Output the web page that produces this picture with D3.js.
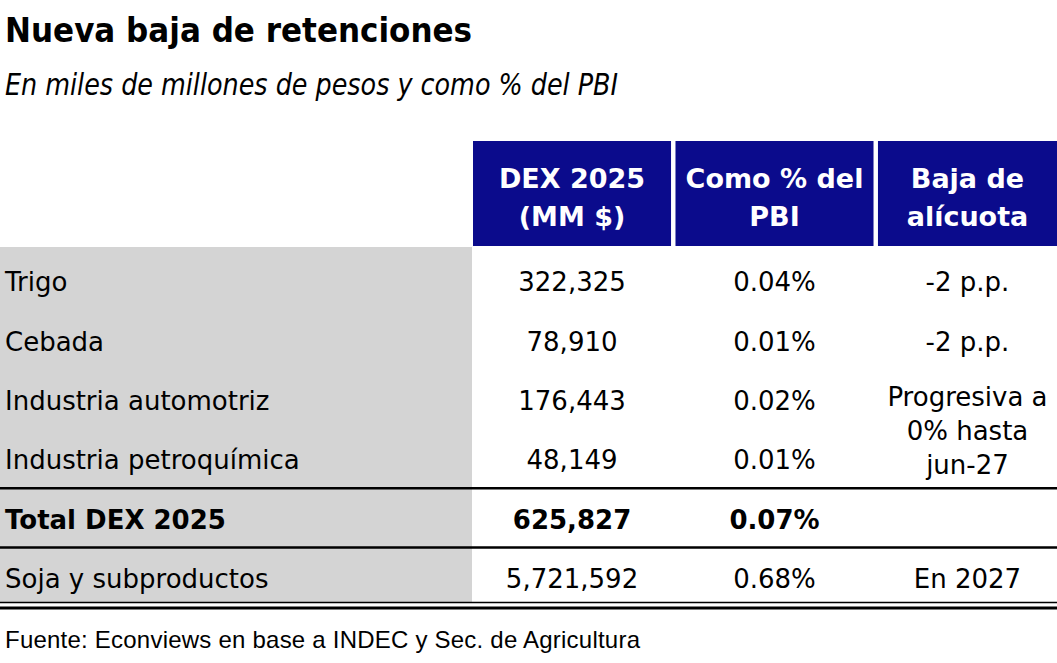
<!DOCTYPE html>
<html>
<head>
<meta charset="utf-8">
<script src="https://cdn.jsdelivr.net/npm/d3@7"></script>
<style>
  body { margin: 0; background: #fff; }
  text { font-family: "DejaVu Sans", sans-serif; }
</style>
</head>
<body>
<div id="chart"></div>
<script>
// table data
var columns = ["DEX 2025\n(MM $)", "Como % del\nPBI", "Baja de\nalícuota"];
var rows = ["Trigo", "Cebada", "Industria automotriz", "Industria petroquímica", "Total DEX 2025", "Soja y subproductos"];
var dex = ["322,325", "78,910", "176,443", "48,149", "625,827", "5,721,592"];
var pctPbi = ["0.04%", "0.01%", "0.02%", "0.01%", "0.07%", "0.68%"];
var baja = ["-2 p.p.", "-2 p.p.", "Progresiva a\n0% hasta\njun-27", null, "", "En 2027"];
var boldRows = ["Total DEX 2025"];

var width = 1057, height = 663;

var svg = d3.select("#chart").append("svg")
    .attr("width", width)
    .attr("height", height);

// title + subtitle
svg.append("text")
    .attr("x", 5).attr("y", 42)
    .style("font-family", "'DejaVu Sans Condensed', 'DejaVu Sans', sans-serif")
    .style("font-size", "34.5px").style("font-weight", "bold")
    .text("Nueva baja de retenciones");

svg.append("text")
    .attr("x", 5).attr("y", 95)
    .attr("textLength", 613)
    .attr("lengthAdjust", "spacingAndGlyphs")
    .style("font-family", "'DejaVu Sans Condensed', 'DejaVu Sans', sans-serif")
    .style("font-size", "30px").style("font-style", "italic")
    .text("En miles de millones de pesos y como % del PBI");

var x = d3.scaleBand()
    .domain(columns)
    .range([472, 1077])
    .paddingInner(0.022)
    .paddingOuter(0.005);

var y = d3.scaleBand()
    .domain(rows)
    .range([251.5, 608]);

function colCenter(c) {
    var x0 = x(c);
    return (x0 + Math.min(x0 + x.bandwidth(), width)) / 2;
}

// grey label column
svg.append("rect")
    .attr("x", 0).attr("y", 247)
    .attr("width", 472).attr("height", 355)
    .style("fill", "#d4d4d4");

// header boxes
var head = svg.selectAll(".head")
    .data(columns)
  .enter().append("g")
    .attr("class", "head");

head.append("rect")
    .attr("x", function(d) { return x(d); })
    .attr("y", 141)
    .attr("width", function(d) { return Math.min(x.bandwidth(), width - x(d)); })
    .attr("height", 105)
    .style("fill", "#0b0b8c");

head.append("text")
    .attr("text-anchor", "middle")
    .style("fill", "#fff")
    .style("font-size", "27px")
    .style("font-weight", "bold")
    .selectAll("tspan")
    .data(function(d) { return d.split("\n").map(function(t) { return {c: d, t: t}; }); })
  .enter().append("tspan")
    .attr("x", function(d) { return colCenter(d.c); })
    .attr("y", function(d, i) { return 188 + i * 38; })
    .text(function(d) { return d.t; });

// rows
var row = svg.selectAll(".row")
    .data(rows)
  .enter().append("g")
    .attr("class", "row")
    .style("font-size", "26px")
    .style("font-weight", function(d) { return boldRows.indexOf(d) >= 0 ? "bold" : "normal"; });

function baseline(d) { return y(d) + y.bandwidth() / 2 + 10; }

row.append("text")
    .attr("x", 5)
    .attr("y", baseline)
    .text(function(d) { return d; });

row.append("text")
    .attr("x", colCenter(columns[0]))
    .attr("y", baseline)
    .attr("text-anchor", "middle")
    .text(function(d, i) { return dex[i]; });

row.append("text")
    .attr("x", colCenter(columns[1]))
    .attr("y", baseline)
    .attr("text-anchor", "middle")
    .text(function(d, i) { return pctPbi[i]; });

// last column, the multi-line cell spans two rows
row.each(function(d, i) {
    var val = baja[i];
    if (!val) return;
    var lines = val.split("\n");
    var top = baseline(d);
    if (lines.length > 1) {
        var mid = (y(d) + y(rows[i + 1]) + y.bandwidth()) / 2;
        top = mid + 10 - (lines.length - 1) * 34 / 2;
    }
    d3.select(this).append("text")
        .attr("text-anchor", "middle")
      .selectAll("tspan")
        .data(lines)
      .enter().append("tspan")
        .attr("x", colCenter(columns[2]))
        .attr("y", function(l, j) { return top + j * 34; })
        .text(function(l) { return l; });
});

// rule lines
var rules = [
    {y: y(rows[4]) - 1, w: 2.5},
    {y: y(rows[5]) - 1, w: 2.5},
    {y: 602.5, w: 1.5},
    {y: 608, w: 3}
];

svg.selectAll(".rule")
    .data(rules)
  .enter().append("line")
    .attr("x1", 0).attr("x2", width)
    .attr("y1", function(d) { return d.y; })
    .attr("y2", function(d) { return d.y; })
    .style("stroke", "#000")
    .style("stroke-width", function(d) { return d.w; });

// source
svg.append("text")
    .attr("x", 5).attr("y", 648)
    .attr("textLength", 635)
    .attr("lengthAdjust", "spacing")
    .style("font-family", "'Liberation Sans Narrow', 'Liberation Sans', sans-serif")
    .style("font-size", "24px")
    .text("Fuente: Econviews en base a INDEC y Sec. de Agricultura");
</script>
</body>
</html>
